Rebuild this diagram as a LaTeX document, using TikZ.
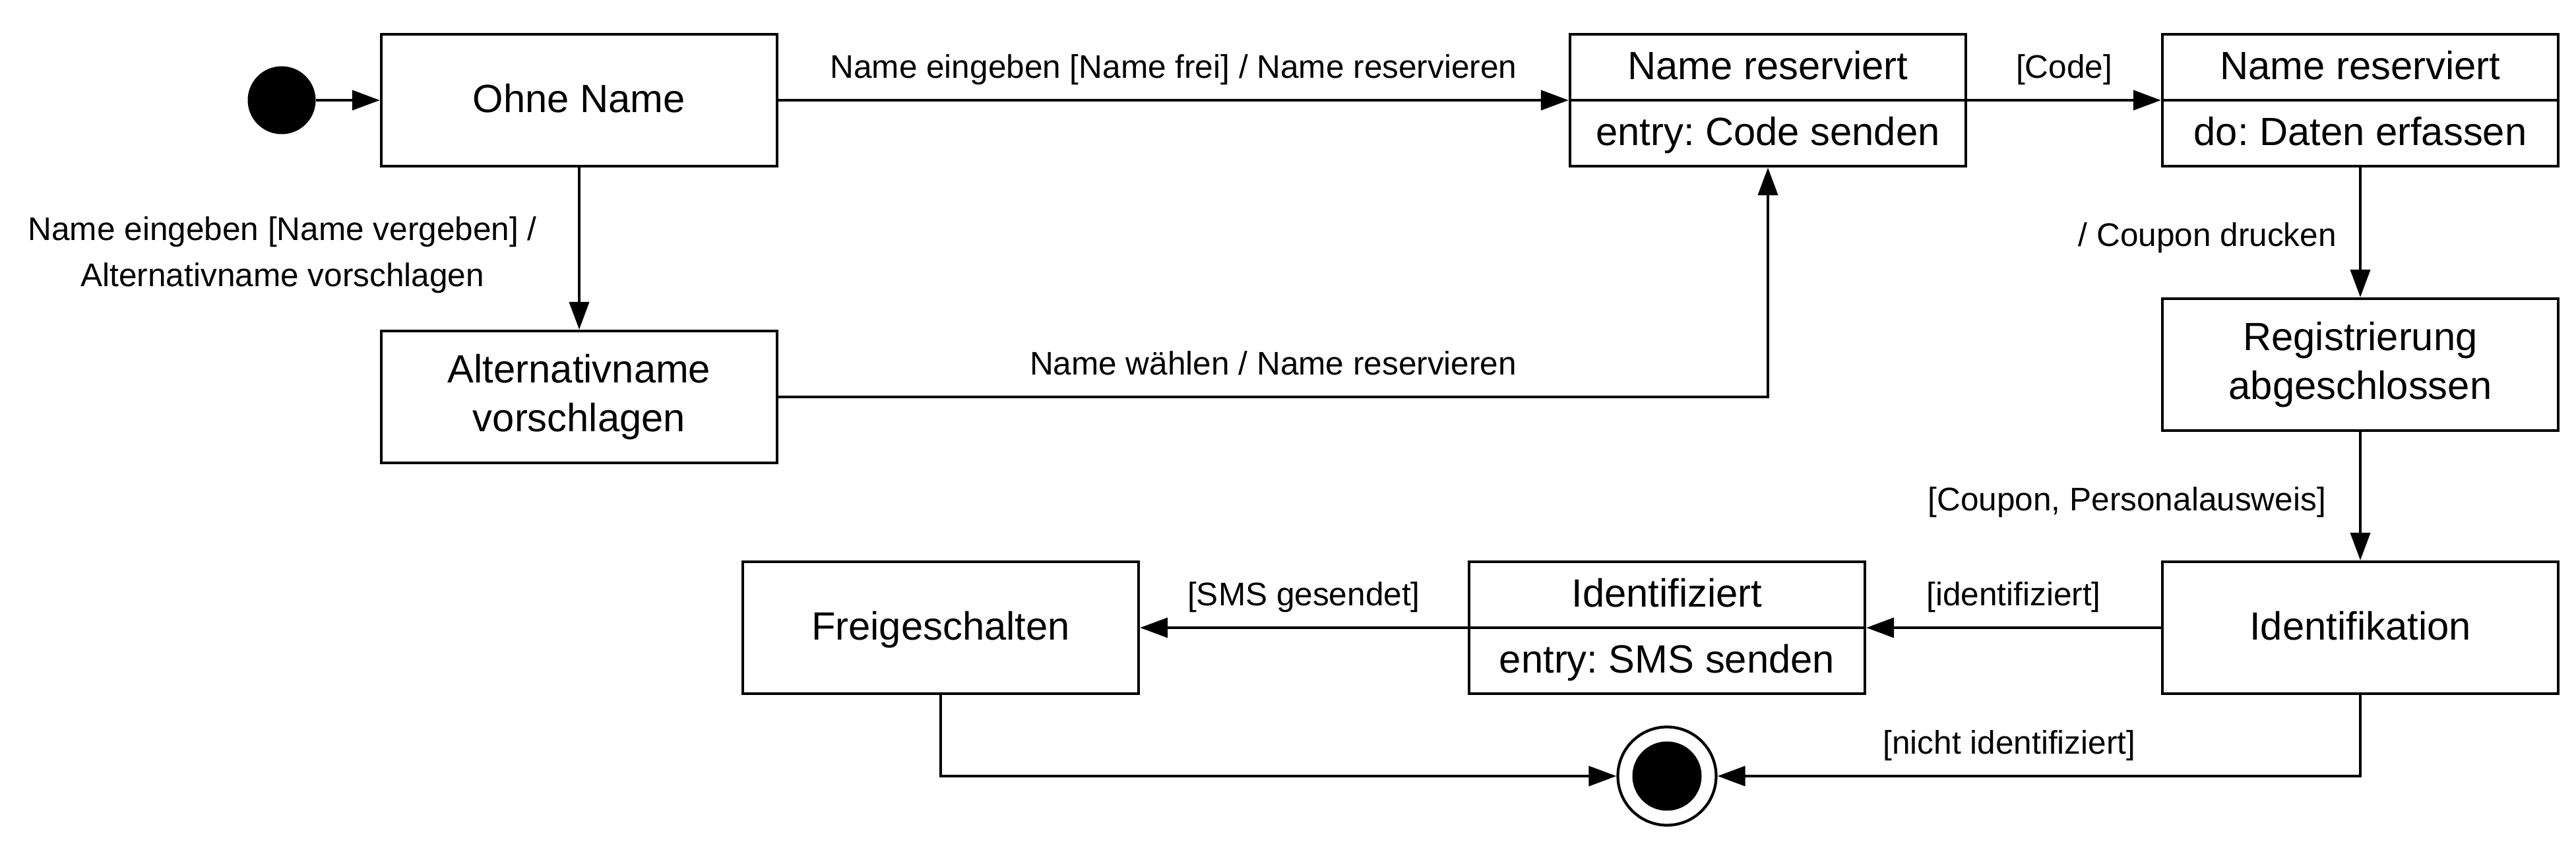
\documentclass[tikz,border=0pt]{standalone}
\usepackage{fontspec}
\setmainfont{Liberation Sans}
\frenchspacing
\usetikzlibrary{arrows.meta}
\begin{document}
\begin{tikzpicture}[inner sep=0,
      st/.style={draw, line width=1.25pt, minimum width=6cm, minimum height=2cm, align=center, font=\fontsize{17}{21}\selectfont},
      one/.style={text height=14.1pt, text depth=3.6pt},
      tx/.style={one, font=\fontsize{17}{21}\selectfont},
      tr/.style={line width=1.2pt, -{Triangle[length=4.2mm, width=3mm]}},
      lb/.style={font=\fontsize{14.1}{20}\selectfont, align=center, text depth=3pt}]
      \useasboundingbox (0,0) rectangle (39.05,-12.8);
      % states
      \node[circle, fill, minimum size=1.03cm] (S) at (4.27,-1.52) {};
      \node[st, one] (O) at (8.78,-1.52) {Ohne Name};
      \node[st] (A) at (8.78,-6.02) {Alternativname\\vorschlagen};
      \node[st] (R1) at (26.8,-1.52) {};
      \node[tx] (R1a) at ([yshift=5mm]R1.center) {Name reserviert};
      \node[tx] (R1b) at ([yshift=-5mm]R1.center) {entry: Code senden};
      \draw[line width=1.25pt] (R1.west) -- (R1.east);
      \node[st] (R2) at (35.78,-1.52) {};
      \node[tx] (R2a) at ([yshift=5mm]R2.center) {Name reserviert};
      \node[tx] (R2b) at ([yshift=-5mm]R2.center) {do: Daten erfassen};
      \draw[line width=1.25pt] (R2.west) -- (R2.east);
      \node[st] (G) at (35.78,-5.53) {Registrierung\\abgeschlossen};
      \node[st, one] (Id) at (35.78,-9.52) {Identifikation};
      \node[st] (Iz) at (25.27,-9.52) {};
      \node[tx] (Iza) at ([yshift=5mm]Iz.center) {Identifiziert};
      \node[tx] (Izb) at ([yshift=-5mm]Iz.center) {entry: SMS senden};
      \draw[line width=1.25pt] (Iz.west) -- (Iz.east);
      \node[st, one] (Fr) at (14.26,-9.52) {Freigeschalten};
      \node[circle, draw, line width=1.2pt, minimum size=1.49cm] (E) at (25.27,-11.77) {};
      \node[circle, fill, minimum size=1.05cm] (Ei) at (E) {};
      % transitions
      \draw[tr] (S) -- (O);
      \draw[tr] (O) -- node[lb, yshift=4.6mm] {Name eingeben [Name frei] / Name reservieren} (R1);
      \draw[tr] (O) -- node[lb, pos=0.54, left=6.2mm] {Name eingeben [Name vergeben] /\\Alternativname vorschlagen} (A);
      \draw[tr] (A) -| node[lb, pos=0.25, yshift=4.6mm] {Name wählen / Name reservieren} (R1);
      \draw[tr] (R1) -- node[lb, yshift=4.6mm] {[Code]} (R2);
      \draw[tr] (R2) -- node[lb, pos=0.54, left=3.4mm] {/ Coupon drucken} (G);
      \draw[tr] (G) -- node[lb, pos=0.55, left=5mm] {[Coupon, Personalausweis]} (Id);
      \draw[tr] (Id) -- node[lb, yshift=4.6mm] {[identifiziert]} (Iz);
      \draw[tr] (Iz) -- node[lb, yshift=4.6mm] {[SMS gesendet]} (Fr);
      \draw[tr] (Id) |- node[lb, pos=0.773, yshift=4.6mm] {[nicht identifiziert]} (E);
      \draw[tr] (Fr) |- (E);
\end{tikzpicture}
\end{document}
